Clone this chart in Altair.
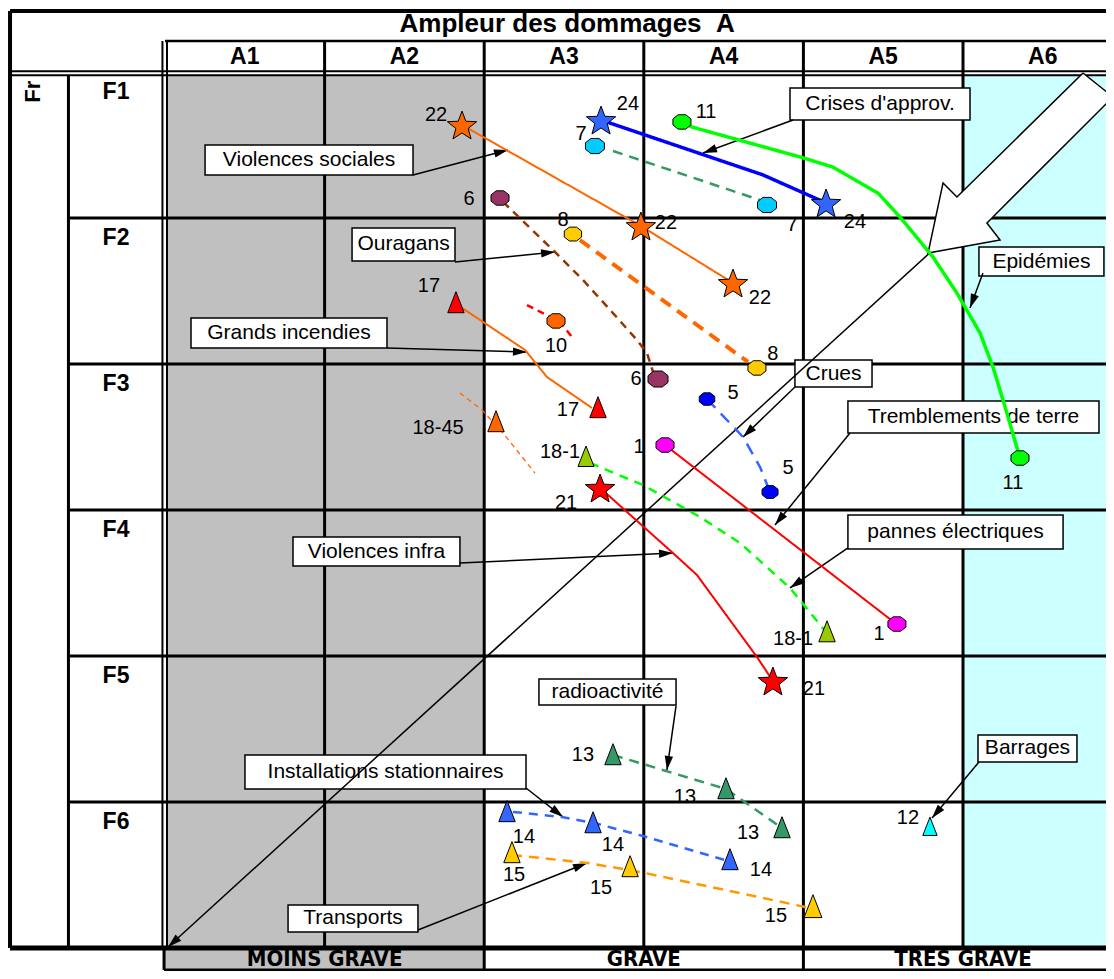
import math
import altair as alt
import pandas as pd

# ---------------- layout (pixels of the plot area) ----------------
W, H = 1098, 963
COL_PX, ROW_PX = 159.6, 146.0
X1_PX, Y1_PX = 157.0, 64.0          # where column A1 / row F1 start
XDOM = [1 - X1_PX / COL_PX, 1 + (W - X1_PX) / COL_PX]
YDOM = [1 - Y1_PX / ROW_PX, 1 + (H - Y1_PX) / ROW_PX]
FONT = "Liberation Sans"
NARROW = "'DejaVu Sans Condensed', 'Liberation Sans', sans-serif"

# ---------------- texts ----------------
TITLE = "Ampleur des dommages\u00a0\u00a0A"
COL_LABELS = ["A1", "A2", "A3", "A4", "A5", "A6"]
ROW_LABELS = ["F1", "F2", "F3", "F4", "F5", "F6"]
ROW_TITLE = "Fr"
GROUP_LABELS = ["MOINS GRAVE", "GRAVE", "TRES GRAVE"]
GROUP_U = [2.0, 4.0, 6.0]

# ---------------- series lines (u = severity A, v = frequency F) ----------------
LINE_ID = ["soc", "crises", "epid", "s7", "s8", "s6", "s17", "s10", "s1845",
           "crues", "trem", "pann", "infra", "radio", "inst", "trans"]
LINE_COLOR = ["#FF6600", "#0000FF", "#00FF00", "#339966", "#FF6600", "#993300",
              "#FF6600", "#FF0000", "#FF6600", "#3366FF", "#FF0000", "#00FF00",
              "#FF0000", "#339966", "#3366FF", "#FF9900"]
LINE_DASH = ["solid", "solid", "solid", "d10", "d12", "d8", "solid", "d7", "d5",
             "d12", "solid", "d9", "solid", "d10", "d9", "d10"]
LINE_WIDTH = [2, 3.5, 3.5, 2.5, 4, 2.5, 2, 2.5, 1.3, 2.5, 2, 2.5, 2, 2.5, 2.5, 2.5]
LINE_U = [
    [2.861, 3.982, 4.559],
    [3.732, 4.747, 5.142],
    [4.239, 4.302, 4.979, 5.185, 5.467, 5.605, 5.812, 5.962, 6.107, 6.188, 6.251, 6.357],
    [3.807, 4.728],
    [3.600, 4.653],
    [3.118, 3.444, 3.619, 3.807, 3.957, 4.020, 4.070],
    [2.861, 3.256, 3.393, 3.675],
    [3.268, 3.475, 3.550],
    [2.848, 2.986, 3.118, 3.318],
    [4.396, 4.622, 4.728, 4.791],
    [4.133, 5.574],
    [3.663, 3.995, 4.352, 4.603, 4.916, 5.167],
    [3.726, 4.183, 4.333, 4.709, 4.809],
    [3.807, 4.515, 4.866],
    [3.180, 3.487, 3.713, 3.995, 4.571],
    [3.174, 3.650, 3.976, 5.041],
]
LINE_V = [
    [1.363, 2.055, 2.445],
    [1.329, 1.705, 1.897],
    [1.342, 1.377, 1.582, 1.651, 1.829, 1.993, 2.267, 2.514, 2.788, 3.021, 3.247, 3.644],
    [1.541, 1.877],
    [2.151, 2.986],
    [1.890, 2.233, 2.425, 2.651, 2.836, 2.925, 3.096],
    [2.616, 2.904, 3.089, 3.301],
    [2.596, 2.712, 2.815],
    [3.199, 3.315, 3.473, 3.747],
    [3.240, 3.500, 3.705, 3.877],
    [3.555, 4.774],
    [3.678, 3.829, 4.048, 4.226, 4.534, 4.870],
    [3.849, 4.295, 4.445, 5.007, 5.171],
    [5.678, 5.911, 6.178],
    [6.068, 6.103, 6.151, 6.233, 6.418],
    [6.363, 6.418, 6.479, 6.726],
]
DASH_NAMES = ["solid", "d5", "d7", "d8", "d9", "d10", "d12"]
DASH_ARRAYS = [[1, 0], [5, 4], [7, 5], [8, 6], [9, 7], [10, 7], [12, 8]]

# ---------------- markers ----------------
MARK_U = [2.861, 3.982, 4.559, 3.732, 5.142, 4.239, 6.357, 3.694, 4.772, 3.556, 4.709,
          3.099, 4.089, 2.823, 3.713, 3.450, 3.074, 4.396, 4.791, 4.133, 5.586,
          3.638, 5.148, 3.726, 4.809, 3.807, 4.515, 4.866, 3.143, 3.682, 4.540,
          3.174, 3.914, 5.060, 5.793]
MARK_V = [1.363, 2.055, 2.445, 1.329, 1.897, 1.342, 3.644, 1.507, 1.911, 2.110, 3.027,
          1.863, 3.103, 2.582, 3.301, 2.705, 3.397, 3.240, 3.877, 3.555, 4.781,
          3.637, 4.836, 3.849, 5.171, 5.678, 5.911, 6.178, 6.068, 6.144, 6.397,
          6.349, 6.445, 6.719, 6.171]
MARK_SHAPE = ["star"] * 5 + ["oct"] * 8 + ["tri"] * 2 + ["oct"] + ["tri"] + ["oct"] * 4 + \
             ["tri"] * 2 + ["star"] * 2 + ["tri"] * 10
MARK_FILL = ["#FF6600"] * 3 + ["#3366FF"] * 2 + ["#00FF00"] * 2 + ["#00CCFF"] * 2 + \
            ["#FFCC00"] * 2 + ["#993366"] * 2 + ["#FF0000"] * 2 + ["#FF6600"] * 2 + \
            ["#0000FF"] * 2 + ["#FF00FF"] * 2 + ["#99CC00"] * 2 + ["#FF0000"] * 2 + \
            ["#339966"] * 3 + ["#3366FF"] * 3 + ["#FFCC00"] * 3 + ["#00FFFF"]
MARK_SIZE = [950, 950, 950, 950, 950, 324, 324, 361, 361, 300, 324,
             324, 400, 420, 420, 324, 420, 240, 256, 324, 324,
             400, 420, 950, 950, 420, 420, 420, 420, 420, 420,
             420, 420, 500, 320]

# ---------------- number labels ----------------
LABEL_TEXT = ["22", "22", "22", "24", "24", "11", "11", "7", "7", "8", "8", "6", "6",
              "17", "17", "10", "18-45", "5", "5", "1", "1", "18-1", "18-1", "21", "21",
              "13", "13", "13", "14", "14", "14", "15", "15", "15", "12"]
LABEL_U = [2.698, 4.139, 4.728, 3.901, 5.323, 4.390, 6.313, 3.607, 4.929, 3.494, 4.809,
           2.905, 3.951, 2.654, 3.525, 3.450, 2.711, 4.559, 4.904, 3.970, 5.474,
           3.475, 4.935, 3.513, 5.066, 3.619, 4.258, 4.653, 3.249, 3.807, 4.734,
           3.187, 3.732, 4.828, 5.655]
LABEL_V = [1.295, 2.034, 2.548, 1.219, 2.027, 1.274, 3.815, 1.425, 2.048, 2.014, 2.932,
           1.870, 3.103, 2.466, 3.315, 2.877, 3.438, 3.199, 3.712, 3.568, 4.849,
           3.603, 4.884, 3.952, 5.226, 5.678, 5.966, 6.212, 6.240, 6.295, 6.466,
           6.500, 6.589, 6.781, 6.110]

# ---------------- annotation boxes and their leaders ----------------
BOX_TEXT = ["Crises d'approv.", "Violences sociales", "Ouragans", "Grands incendies",
            "Crues", "Tremblements de terre", "pannes électriques", "Violences infra",
            "radioactivité", "Installations stationnaires", "Transports", "Epidémies",
            "Barrages"]
BOX_U1 = [4.916, 1.251, 2.172, 1.163, 4.947, 5.279, 5.279, 1.802, 3.343, 1.501, 1.771, 6.100, 6.094]
BOX_U2 = [6.044, 2.554, 2.817, 2.391, 5.430, 6.852, 6.627, 2.848, 4.202, 3.262, 2.585, 6.883, 6.714]
BOX_V1 = [1.110, 1.500, 2.068, 2.685, 2.973, 3.253, 4.034, 4.185, 5.158, 5.678, 6.705, 2.199, 5.541]
BOX_V2 = [1.329, 1.705, 2.295, 2.890, 3.158, 3.473, 4.267, 4.384, 5.336, 5.911, 6.890, 2.397, 5.726]
LEAD_U0 = [4.935, 2.554, 2.817, 2.391, 4.947, 5.292, 5.279, 2.848, 4.202, 3.262, 2.585, 6.125, 6.100]
LEAD_V0 = [1.329, 1.705, 2.301, 2.890, 3.158, 3.473, 4.260, 4.363, 5.342, 5.904, 6.877, 2.377, 5.726]
LEAD_U1 = [4.371, 3.149, 3.444, 3.268, 4.622, 4.822, 4.916, 4.183, 4.145, 3.494, 3.644, 6.044, 5.806]
LEAD_V1 = [1.555, 1.534, 2.233, 2.918, 3.500, 4.103, 4.534, 4.295, 5.781, 6.103, 6.418, 2.616, 6.110]

# big diagonal trend line and block arrow
DIAG_U = [6.946, 1.019]
DIAG_V = [1.089, 6.993]
BLOCK_U = [6.752, 5.962, 5.875, 5.781, 6.232, 6.150, 6.940, 6.752]
BLOCK_V = [1.007, 1.856, 1.760, 2.240, 2.151, 2.034, 1.171, 1.007]

# ---------------- shapes ----------------
def star_path(inner=0.42):
    pts = []
    for k in range(10):
        a = math.radians(-90 + 36 * k)
        r = 1.0 if k % 2 == 0 else inner
        pts.append((r * math.cos(a), r * math.sin(a) + 0.095))
    return "M" + "L".join(f"{x:.3f},{y:.3f}" for x, y in pts) + "Z"

OCT_PATH = "M-0.42,-0.8L0.42,-0.8L1,-0.34L1,0.34L0.42,0.8L-0.42,0.8L-1,0.34L-1,-0.34Z"
TRI_PATH = "M0,-1.1L0.8,0.95L-0.8,0.95Z"
ARROW_PATH = "M0,0L0.6,2L-0.6,2Z"


def heading(u0, v0, u1, v1):
    dx = (u1 - u0) * COL_PX
    dy = (v1 - v0) * ROW_PX
    return math.degrees(math.atan2(dx, -dy)) % 360


X = lambda f: alt.X(f, type="quantitative", scale=alt.Scale(domain=XDOM, nice=False, zero=False), axis=None)
Y = lambda f: alt.Y(f, type="quantitative", scale=alt.Scale(domain=YDOM, nice=False, zero=False, reverse=True), axis=None)

BOTTOM = 7.15   # lower border of the group row

# ---------------- background fills ----------------
bg = pd.DataFrame({
    "u": [1.0125, 6.0, 0.994],
    "u2": [3.0, 7.3, 3.0],
    "v": [1.022, 1.022, 7.0],
    "v2": [7.0, 7.0, BOTTOM],
    "c": ["#C0C0C0", "#CCFFFF", "#C0C0C0"],
})
bg_layer = alt.Chart(bg).mark_rect().encode(
    x=X("u"), x2="u2", y=Y("v"), y2="v2", fill=alt.Fill("c:N", scale=None))

rowtitle = alt.Chart(pd.DataFrame({"u": [0.170], "v": [1.135], "t": [ROW_TITLE]})).mark_text(
    font=FONT, fontSize=22, fontWeight="bold", angle=270, align="center", baseline="middle"
).encode(x=X("u"), y=Y("v"), text="t:N")

# ---------------- structural rules ----------------
R = []
R.append((0.029, 0.582, 7.3, 0.582, 4))        # top border
R.append((0.029, 0.582, 0.029, 7.0, 4))        # left border
R.append((1.0, 0.788, 7.3, 0.788, 2.5))        # under title
R.append((0.029, 0.995, 7.3, 0.995, 2))        # double line under header
R.append((0.029, 1.022, 7.3, 1.022, 2))
R.append((0.984, 0.788, 0.984, 7.0, 2))        # double line before A1
R.append((1.0125, 0.788, 1.0125, 7.0, 2))
R.append((0.395, 1.022, 0.395, 7.0, 3))        # row label divider
for c in range(2, 7):
    R.append((c, 0.788, c, 7.0, 3))
for r in range(2, 7):
    R.append((0.395, r, 7.3, r, 3))
R.append((0.029, 7.0, 7.3, 7.0, 5))            # bottom thick line
for c in [0.994, 3.0, 5.0]:
    R.append((c, 7.0, c, BOTTOM, 3))
R.append((0.994, BOTTOM, 7.3, BOTTOM, 3))
rules = pd.DataFrame(R, columns=["u", "v", "u2", "v2", "w"])
rule_layer = alt.Chart(rules).mark_rule(color="black").encode(
    x=X("u"), y=Y("v"), x2="u2", y2="v2", strokeWidth=alt.StrokeWidth("w:Q", scale=None))

# ---------------- header texts ----------------
hdr = pd.DataFrame({
    "u": [3.52] + [c + 1.5 for c in range(6)] + [0.693] * 6,
    "v": [0.67] + [0.897] * 6 + [r + 1.137 for r in range(6)],
    "t": [TITLE] + COL_LABELS + ROW_LABELS,
    "s": [26] + [23] * 12,
})
hdr_layer = alt.Chart(hdr).mark_text(font=FONT, fontWeight="bold", baseline="middle").encode(
    x=X("u"), y=Y("v"), text="t:N", size=alt.Size("s:Q", scale=None))
grp_layer = alt.Chart(pd.DataFrame({"u": GROUP_U, "v": [7.078] * 3, "t": GROUP_LABELS})).mark_text(
    font=NARROW, fontWeight="bold", fontSize=22, baseline="middle"
).encode(x=X("u"), y=Y("v"), text="t:N")

# ---------------- boxes ----------------
boxes = pd.DataFrame({"t": BOX_TEXT, "u": BOX_U1, "u2": BOX_U2, "v": BOX_V1, "v2": BOX_V2})
boxes["uc"] = (boxes.u + boxes.u2) / 2
boxes["vc"] = (boxes.v + boxes.v2) / 2
box_layer = alt.Chart(boxes).mark_rect(fill="white", stroke="black", strokeWidth=1.5).encode(
    x=X("u"), x2="u2", y=Y("v"), y2="v2")
box_text = alt.Chart(boxes).mark_text(font=FONT, fontSize=21, baseline="middle").encode(
    x=X("uc"), y=Y("vc"), text="t:N")

# ---------------- leaders and arrowheads ----------------
leads = pd.DataFrame({"u": LEAD_U0 + [DIAG_U[0]], "v": LEAD_V0 + [DIAG_V[0]],
                      "u2": LEAD_U1 + [DIAG_U[1]], "v2": LEAD_V1 + [DIAG_V[1]]})
leads["ang"] = [heading(a, b, c, d) for a, b, c, d in zip(leads.u, leads.v, leads.u2, leads.v2)]
lead_layer = alt.Chart(leads.iloc[:-1]).mark_rule(color="black", strokeWidth=1.5).encode(
    x=X("u"), y=Y("v"), x2="u2", y2="v2")
diag_layer = alt.Chart(leads.iloc[-1:]).mark_rule(color="black", strokeWidth=1.5).encode(
    x=X("u"), y=Y("v"), x2="u2", y2="v2")
head_layer = alt.Chart(leads).mark_point(
    shape=ARROW_PATH, filled=True, color="black", size=196, opacity=1, strokeWidth=0
).encode(x=X("u2"), y=Y("v2"), angle=alt.Angle("ang:Q", scale=None))

# block arrow
block = pd.DataFrame({"u": BLOCK_U, "v": BLOCK_V, "o": list(range(len(BLOCK_U)))})
block_layer = alt.Chart(block).mark_line(fill="white", stroke="black", strokeWidth=1.5).encode(
    x=X("u"), y=Y("v"), order="o:Q")

# ---------------- series lines ----------------
rows = []
for i, sid in enumerate(LINE_ID):
    for k, (uu, vv) in enumerate(zip(LINE_U[i], LINE_V[i])):
        rows.append(dict(sid=sid, o=k, u=uu, v=vv, col=LINE_COLOR[i], dash=LINE_DASH[i], w=LINE_WIDTH[i]))
lines = pd.DataFrame(rows)
line_layer = alt.Chart(lines).mark_line().encode(
    x=X("u"), y=Y("v"), detail="sid:N", order="o:Q",
    color=alt.Color("col:N", scale=None),
    strokeDash=alt.StrokeDash("dash:N", scale=alt.Scale(domain=DASH_NAMES, range=DASH_ARRAYS), legend=None),
    strokeWidth=alt.StrokeWidth("w:Q", scale=None))

# ---------------- markers ----------------
marks = pd.DataFrame({"u": MARK_U, "v": MARK_V, "shape": MARK_SHAPE, "fill": MARK_FILL, "size": MARK_SIZE})
mark_layer = alt.Chart(marks).mark_point(filled=True, stroke="black", strokeWidth=1, opacity=1).encode(
    x=X("u"), y=Y("v"),
    shape=alt.Shape("shape:N", scale=alt.Scale(domain=["star", "oct", "tri"],
                                              range=[star_path(), OCT_PATH, TRI_PATH]), legend=None),
    fill=alt.Fill("fill:N", scale=None),
    size=alt.Size("size:Q", scale=None))

labels = pd.DataFrame({"t": LABEL_TEXT, "u": LABEL_U, "v": LABEL_V})
label_layer = alt.Chart(labels).mark_text(font=FONT, fontSize=20, baseline="middle").encode(
    x=X("u"), y=Y("v"), text="t:N")

chart = alt.layer(
    bg_layer, rowtitle, rule_layer, hdr_layer, grp_layer,
    box_layer, box_text, lead_layer, diag_layer, block_layer, head_layer,
    line_layer, mark_layer, label_layer,
).properties(width=W, height=H, padding=0, autosize="none", background="white"
).configure_view(strokeWidth=0)

chart.save("out.html", embed_options={"renderer": "svg", "actions": False})
